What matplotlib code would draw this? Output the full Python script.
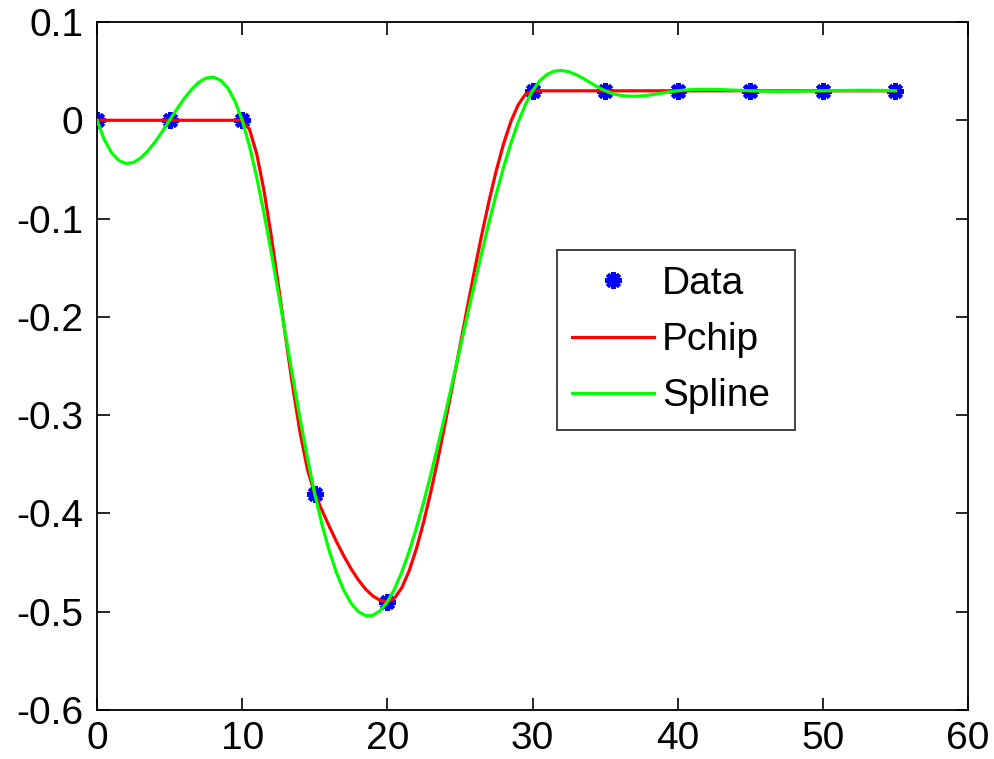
import numpy as np
import matplotlib
matplotlib.use("Agg")
import matplotlib.pyplot as plt

# Data
x_data = [0, 5, 10, 15, 20, 30, 35, 40, 45, 50, 55]
y_data = [0, 0, 0, -0.38, -0.49, 0.03, 0.03, 0.03, 0.03, 0.03, 0.03]
x_ticks = [0, 10, 20, 30, 40, 50, 60]
y_ticks = [0.1, 0, -0.1, -0.2, -0.3, -0.4, -0.5, -0.6]
y_tick_labels = ["0.1", "0", "-0.1", "-0.2", "-0.3", "-0.4", "-0.5", "-0.6"]
legend_labels = ["Data", "Pchip", "Spline"]


def pchip_slopes(x, y):
    h = np.diff(x)
    dl = np.diff(y) / h
    n = len(x)
    d = np.zeros(n)
    for k in range(1, n - 1):
        if np.sign(dl[k - 1]) * np.sign(dl[k]) > 0:
            w1 = 2 * h[k] + h[k - 1]
            w2 = h[k] + 2 * h[k - 1]
            d[k] = (w1 + w2) / (w1 / dl[k - 1] + w2 / dl[k])

    def end(h0, h1, d0, d1):
        s = ((2 * h0 + h1) * d0 - h0 * d1) / (h0 + h1)
        if np.sign(s) != np.sign(d0):
            s = 0.0
        elif np.sign(d0) != np.sign(d1) and abs(s) > abs(3 * d0):
            s = 3 * d0
        return s

    d[0] = end(h[0], h[1], dl[0], dl[1])
    d[-1] = end(h[-1], h[-2], dl[-1], dl[-2])
    return d


def spline_slopes(x, y):
    h = np.diff(x)
    dl = np.diff(y) / h
    n = len(x)
    A = np.zeros((n, n))
    r = np.zeros(n)
    for i in range(1, n - 1):
        A[i, i - 1] = h[i]
        A[i, i] = 2 * (h[i - 1] + h[i])
        A[i, i + 1] = h[i - 1]
        r[i] = 3 * (h[i] * dl[i - 1] + h[i - 1] * dl[i])
    x31 = h[0] + h[1]
    A[0, 0] = h[1]
    A[0, 1] = x31
    r[0] = ((h[0] + 2 * x31) * h[1] * dl[0] + h[0] ** 2 * dl[1]) / x31
    xn = h[-1] + h[-2]
    A[-1, -2] = xn
    A[-1, -1] = h[-2]
    r[-1] = (h[-1] ** 2 * dl[-2] + (2 * xn + h[-1]) * h[-2] * dl[-1]) / xn
    return np.linalg.solve(A, r)


def hermite(x, y, d, xx):
    x = np.asarray(x, float)
    y = np.asarray(y, float)
    idx = np.clip(np.searchsorted(x, xx, side="right") - 1, 0, len(x) - 2)
    h = x[idx + 1] - x[idx]
    t = (xx - x[idx]) / h
    h00 = 2 * t**3 - 3 * t**2 + 1
    h10 = t**3 - 2 * t**2 + t
    h01 = -2 * t**3 + 3 * t**2
    h11 = t**3 - t**2
    return h00 * y[idx] + h10 * h * d[idx] + h01 * y[idx + 1] + h11 * h * d[idx + 1]


xa = np.asarray(x_data, float)
ya = np.asarray(y_data, float)
xx = np.arange(xa[0], xa[-1] + 0.25, 0.5)
y_pchip = hermite(xa, ya, pchip_slopes(xa, ya), xx)
y_spline = hermite(xa, ya, spline_slopes(xa, ya), xx)

plt.rcParams["font.family"] = ["Liberation Sans", "DejaVu Sans"]

fig = plt.figure(figsize=(9.94, 7.59), dpi=100)
ax = fig.add_axes([0.0976, 0.0646, 0.8763, 0.9064])

ax.plot(xa, ya, linestyle="none", marker=(8, 2, 0), color="#0000ff",
        markersize=12, markeredgewidth=3.0, label=legend_labels[0], zorder=2)
ax.plot(xx, y_pchip, color="#ff0000", linewidth=2.3, label=legend_labels[1], zorder=3)
ax.plot(xx, y_spline, color="#00ff00", linewidth=2.3, label=legend_labels[2], zorder=4)

ax.set_xlim(0, 60)
ax.set_ylim(-0.6, 0.1)
ax.set_xticks(x_ticks)
ax.set_yticks(y_ticks)
ax.set_yticklabels(y_tick_labels)
ax.tick_params(direction="in", length=9, width=1.2, labelsize=28,
               top=True, right=True)
ax.tick_params(axis="x", pad=8)
ax.tick_params(axis="y", pad=10)
for s in ax.spines.values():
    s.set_linewidth(1.3)

leg = ax.legend(loc="lower left", bbox_to_anchor=(0.528, 0.407, 0.273, 0.2645),
                mode="expand", fontsize=28, frameon=True, fancybox=False,
                edgecolor="black", borderaxespad=0, handlelength=2.1,
                handletextpad=0.2, labelspacing=0.52, borderpad=0.4)
leg.get_frame().set_linewidth(1.3)

fig.savefig("out.png", dpi=100, facecolor="white")
